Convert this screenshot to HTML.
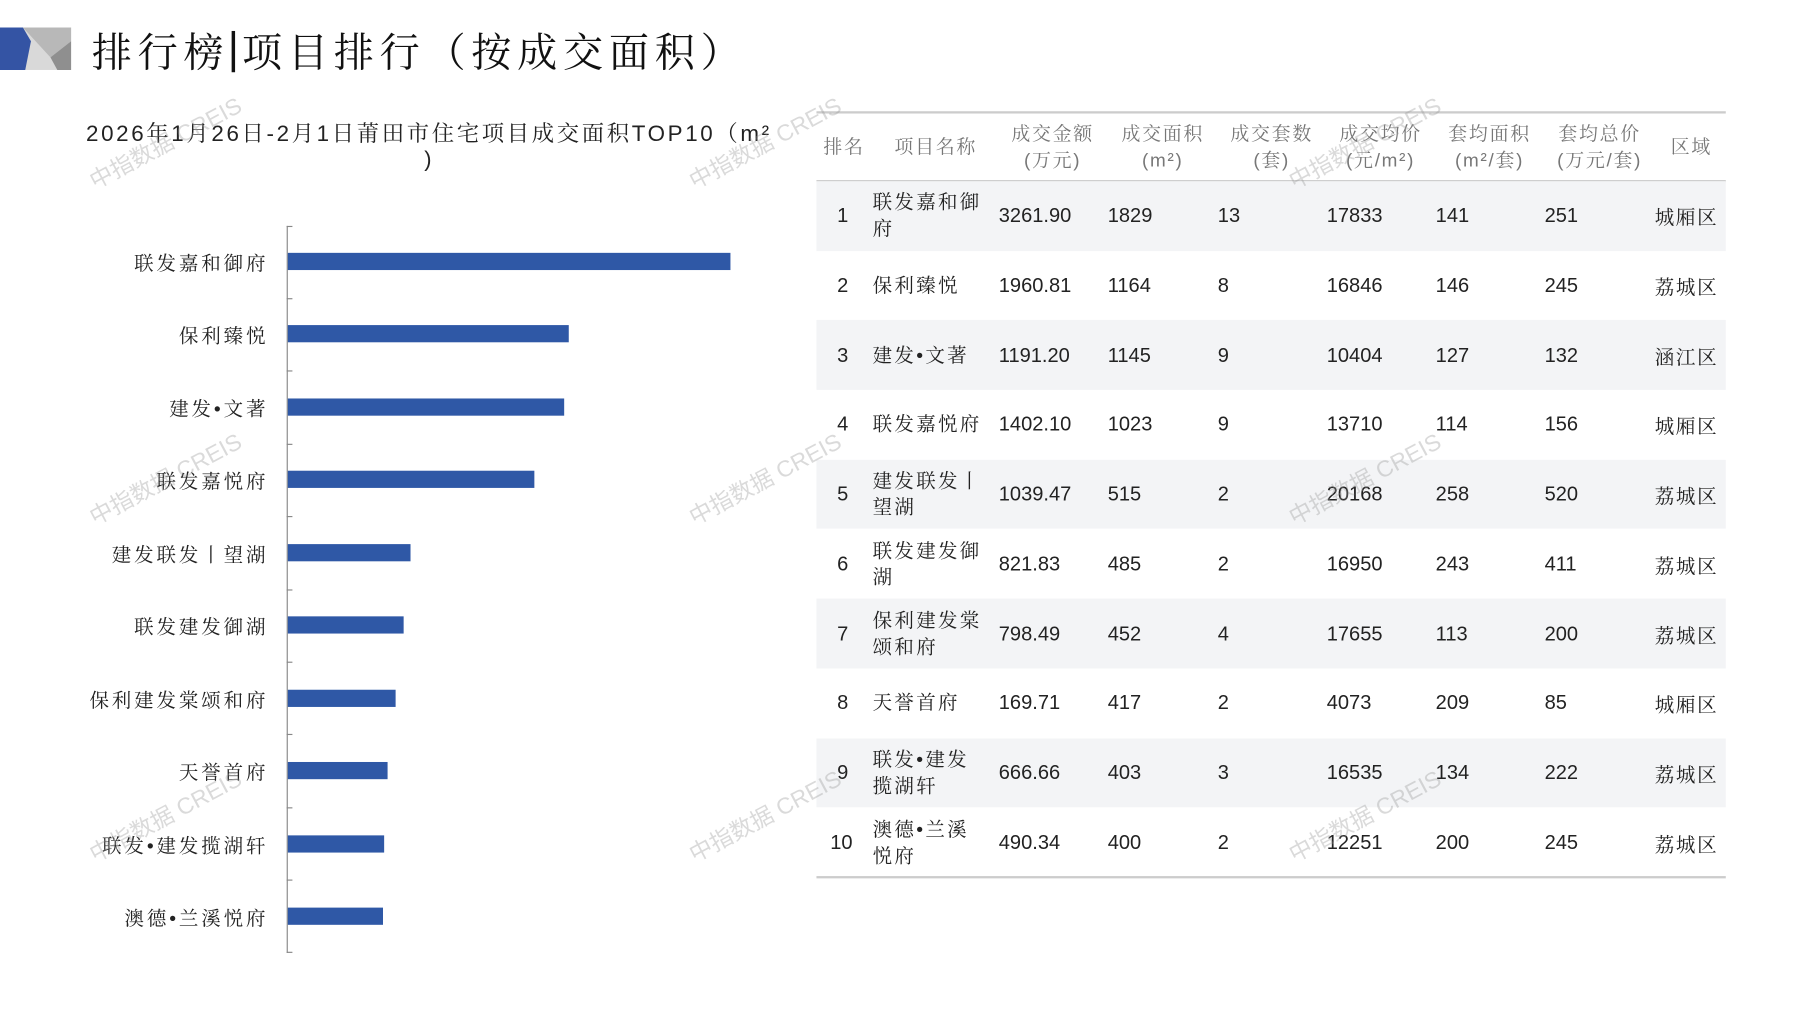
<!DOCTYPE html>
<html><head><meta charset="utf-8"><style>
html,body{margin:0;padding:0;background:#fff;width:1797px;height:1010px;overflow:hidden}
#w{position:absolute;left:0;top:0;width:1570px;height:882px;transform:scale(1.1467);transform-origin:0 0;font-family:"Liberation Sans","Noto Serif CJK SC","Noto Sans CJK SC",sans-serif;color:#222}
.a{position:absolute;white-space:nowrap}
.lbl{position:absolute;right:1336px;font-size:17px;color:#222;transform:translateY(-50%);letter-spacing:2.5px}
.bar{position:absolute;left:251px;height:15px;background:#2f58a6;transform:translateY(-50%)}
.tk{position:absolute;left:250px;width:5px;height:1px;background:#888}
.row{position:absolute;left:712px;width:793px;height:60.7px}
.c{position:absolute;font-size:17.5px;transform:translateY(-50%);color:#222;white-space:nowrap}
.n{font-size:17px;line-height:23px;letter-spacing:2px}
.h{position:absolute;font-size:16.5px;color:#777;text-align:center;line-height:23px;transform:translate(-50%,-50%);letter-spacing:1.5px;white-space:nowrap}
.wm{position:absolute;font-size:20px;color:rgba(150,150,150,.35);transform:rotate(-28deg);transform-origin:0 0;white-space:nowrap;font-family:"Liberation Sans","Noto Sans CJK SC",sans-serif}
</style></head><body><div id="w">
<svg class="a" style="left:0;top:24px" width="64" height="37" viewBox="0 0 64 37">
<rect x="0" y="0" width="62" height="37" fill="#d9d9d9"/>
<polygon points="20,0 62,0 62,12 44,26" fill="#b8b8b8"/>
<polygon points="62,12 62,37 50,37 44,26" fill="#8f8f8f"/>
<polygon points="0,0 20,0 27,12 22,37 0,37" fill="#3454a4"/>
</svg>
<div class="a" style="left:80px;top:19px;font-size:35px;letter-spacing:5px;color:#111">排行榜<span style="display:inline-block;width:3px;height:36px;background:#111;vertical-align:-5px;margin:0 6px 0 2px"></span>项目排行（按成交面积）</div>
<div class="a" style="left:75px;top:101px;font-size:19.5px;letter-spacing:2.3px;color:#222">2026年1月26日-2月1日莆田市住宅项目成交面积TOP10（m²</div>
<div class="a" style="left:370px;top:129px;font-size:19px">)</div>
<div class="a" style="left:250px;top:197px;width:1px;height:634px;background:#888"></div>
<div class="tk" style="top:197px"></div><div class="tk" style="top:260px"></div><div class="tk" style="top:323px"></div><div class="tk" style="top:387px"></div><div class="tk" style="top:450px"></div><div class="tk" style="top:514px"></div><div class="tk" style="top:577px"></div><div class="tk" style="top:640px"></div><div class="tk" style="top:704px"></div><div class="tk" style="top:767px"></div><div class="tk" style="top:830px"></div>
<div class="lbl" style="top:228px">联发嘉和御府</div><div class="bar" style="top:228px;width:386px"></div>
<div class="lbl" style="top:291px">保利臻悦</div><div class="bar" style="top:291px;width:245px"></div>
<div class="lbl" style="top:355px">建发•文著</div><div class="bar" style="top:355px;width:241px"></div>
<div class="lbl" style="top:418px">联发嘉悦府</div><div class="bar" style="top:418px;width:215px"></div>
<div class="lbl" style="top:482px">建发联发丨望湖</div><div class="bar" style="top:482px;width:107px"></div>
<div class="lbl" style="top:545px">联发建发御湖</div><div class="bar" style="top:545px;width:101px"></div>
<div class="lbl" style="top:609px">保利建发棠颂和府</div><div class="bar" style="top:609px;width:94px"></div>
<div class="lbl" style="top:672px">天誉首府</div><div class="bar" style="top:672px;width:87px"></div>
<div class="lbl" style="top:736px">联发•建发揽湖轩</div><div class="bar" style="top:736px;width:84px"></div>
<div class="lbl" style="top:799px">澳德•兰溪悦府</div><div class="bar" style="top:799px;width:83px"></div>

<div class="a" style="left:712px;top:97px;width:793px;height:2px;background:#ccc"></div>
<div class="a" style="left:712px;top:157px;width:793px;height:1.5px;background:#ccc"></div>
<div class="a" style="left:712px;top:764px;width:793px;height:1.5px;background:#ccc"></div>
<div class="h" style="left:736px;top:129px">排名</div>
<div class="h" style="left:816px;top:129px">项目名称</div>
<div class="h" style="left:918px;top:129px">成交金额<br>(万元)</div>
<div class="h" style="left:1014px;top:129px">成交面积<br>(m²)</div>
<div class="h" style="left:1109px;top:129px">成交套数<br>(套)</div>
<div class="h" style="left:1204px;top:129px">成交均价<br>(元/m²)</div>
<div class="h" style="left:1299px;top:129px">套均面积<br>(m²/套)</div>
<div class="h" style="left:1395px;top:129px">套均总价<br>(万元/套)</div>
<div class="h" style="left:1475px;top:129px">区域</div>
<div id="rows"></div>
<script>
(function(){
var d=[["1","联发嘉和御<br>府","3261.90","1829","13","17833","141","251","城厢区"],
["2","保利臻悦","1960.81","1164","8","16846","146","245","荔城区"],
["3","建发•文著","1191.20","1145","9","10404","127","132","涵江区"],
["4","联发嘉悦府","1402.10","1023","9","13710","114","156","城厢区"],
["5","建发联发丨<br>望湖","1039.47","515","2","20168","258","520","荔城区"],
["6","联发建发御<br>湖","821.83","485","2","16950","243","411","荔城区"],
["7","保利建发棠<br>颂和府","798.49","452","4","17655","113","200","荔城区"],
["8","天誉首府","169.71","417","2","4073","209","85","城厢区"],
["9","联发•建发<br>揽湖轩","666.66","403","3","16535","134","222","荔城区"],
["10","澳德•兰溪<br>悦府","490.34","400","2","12251","200","245","荔城区"]];
var xs=[0,761,871,966,1062,1157,1252,1347,1443],h="";
for(var i=0;i<10;i++){var tp=158+i*60.7,cy=tp+30.35;
if(i%2==0)h+='<div class="row" style="top:'+tp+'px;background:#f3f4f6"></div>';
for(var j=0;j<9;j++){var r=d[i][j];
if(j==0)h+='<div class="c" style="left:'+(i==9?724:730)+'px;top:'+cy+'px">'+r+'</div>';
else if(j==1)h+='<div class="c n" style="left:761px;top:'+cy+'px">'+r+'</div>';
else if(j==8)h+='<div class="c" style="left:1443px;top:'+cy+'px;font-size:17px;letter-spacing:1.5px">'+r+'</div>';
else h+='<div class="c" style="left:'+xs[j]+'px;top:'+cy+'px">'+r+'</div>';}}
document.getElementById('rows').innerHTML=h;
})();
</script>
<div class="wm" style="left:72px;top:145px">中指数据 CREIS</div>
<div class="wm" style="left:595px;top:145px">中指数据 CREIS</div>
<div class="wm" style="left:1118px;top:145px">中指数据 CREIS</div>
<div class="wm" style="left:72px;top:438px">中指数据 CREIS</div>
<div class="wm" style="left:595px;top:438px">中指数据 CREIS</div>
<div class="wm" style="left:1118px;top:438px">中指数据 CREIS</div>
<div class="wm" style="left:72px;top:732px">中指数据 CREIS</div>
<div class="wm" style="left:595px;top:732px">中指数据 CREIS</div>
<div class="wm" style="left:1118px;top:732px">中指数据 CREIS</div>
</div></body></html>
